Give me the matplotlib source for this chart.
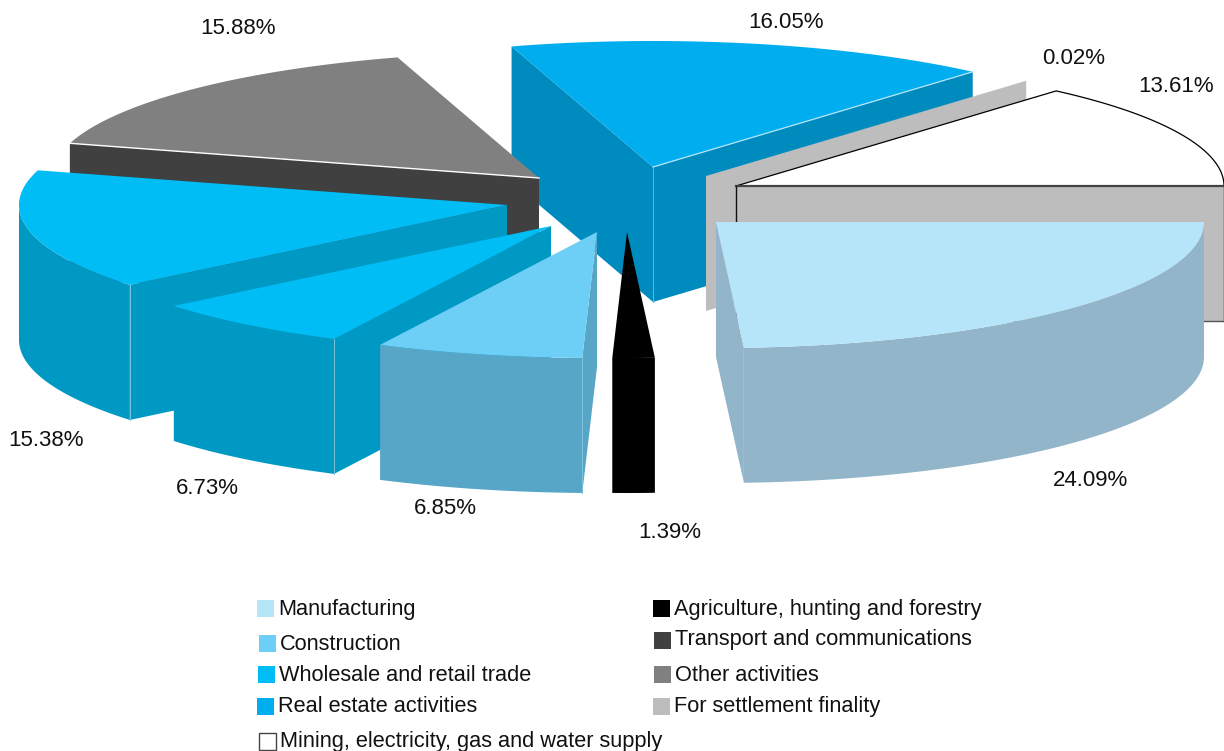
import numpy as np
import matplotlib
matplotlib.use('Agg')
import matplotlib.pyplot as plt
from matplotlib.patches import Rectangle

plt.rcParams['font.family'] = ['Liberation Sans', 'DejaVu Sans']

# shares in drawing order round the pie, counterclockwise from east
shares = [13.61, 0.02, 16.05, 15.88, 15.38, 6.73, 6.85, 1.39, 24.09]
share_labels = ['13.61%', '0.02%', '16.05%', '15.88%', '15.38%', '6.73%', '6.85%', '1.39%', '24.09%']
top_colors = ['#ffffff', '#bdbdbd', '#00aeef', '#808080', '#00bdf6', '#00bdf6', '#6dcff6', '#000000', '#b6e5fa']
side_colors = ['#bdbdbd', '#bdbdbd', '#008bbf', '#404040', '#0099c4', '#0099c4', '#57a6c7', '#000000', '#93b5c9']

legend_left = ['Manufacturing', 'Construction', 'Wholesale and retail trade', 'Real estate activities',
               'Mining, electricity, gas and water supply']
legend_left_colors = ['#b6e5fa', '#6dcff6', '#00bdf6', '#00aeef', '#ffffff']
legend_right = ['Agriculture, hunting and forestry', 'Transport and communications', 'Other activities',
                'For settlement finality']
legend_right_colors = ['#000000', '#404040', '#808080', '#bdbdbd']

# layout in pixels
rx, ry, depth = 488, 126, 135
apex = [(736, 186), (706, 176), (653, 167), (539, 178), (507, 205), (551, 226), (597, 232), (627, 232), (716, 222)]
label_pos = [(1176, 86), (1074, 58), (786, 22), (238, 28), (46, 440), (207, 488), (445, 508), (670, 532), (1090, 480)]
paint_order = [2, 1, 0, 3, 4, 5, 6, 7, 8]
left_swatch = [(257, 600), (259, 635), (258, 666), (257, 698), (259, 733)]
left_base = [615, 650, 681, 712, 747]
right_swatch = [(653, 600), (654, 632), (654, 666), (653, 698)]
right_base = [615, 645, 681, 712]


def rim(cx, cy, deg):
    a = np.radians(deg)
    return cx + rx * np.cos(a), cy - ry * np.sin(a)


fig = plt.figure(figsize=(12.24, 7.51), dpi=100)
ax = fig.add_axes([0, 0, 1, 1])
ax.set_xlim(0, 1224)
ax.set_ylim(751, 0)
ax.axis('off')

edges = np.cumsum([0] + shares) * 3.6

for z, i in enumerate(paint_order):
    a0, a1 = edges[i], edges[i + 1]
    cx, cy = apex[i]
    top = top_colors[i]
    side = side_colors[i]

    # start wall, only when it faces the viewer
    if np.cos(np.radians(a0)) > 0:
        x, y = rim(cx, cy, a0)
        ax.fill([cx, x, x, cx], [cy, y, y + depth, cy + depth], color=side, lw=0, zorder=z)
    # end wall
    if np.cos(np.radians(a1)) < 0:
        x, y = rim(cx, cy, a1)
        ax.fill([cx, x, x, cx], [cy, y, y + depth, cy + depth], color=side, lw=0, zorder=z)
    # front of the rim
    lo, hi = max(a0, 180), min(a1, 360)
    if hi > lo:
        t = np.linspace(lo, hi, 80)
        x, y = rim(cx, cy, t)
        ax.fill(np.r_[x, x[::-1]], np.r_[y, y[::-1] + depth], color=side, lw=0, zorder=z)
    # top
    t = np.linspace(a0, a1, 120)
    x, y = rim(cx, cy, t)
    ax.fill(np.r_[cx, x], np.r_[cy, y], color=top, lw=0, zorder=z)

    # thin light seams
    if i == 2:
        ax.plot([cx, cx], [cy, cy + depth], color='#5db8d8', lw=0.7, zorder=z)
        x, y = rim(cx, cy, a0)
        ax.plot([cx, x], [cy, y], color='#b6e5fa', lw=0.9, zorder=z)
    if i in (4, 5, 6):
        x, y = rim(cx, cy, a1)
        ax.plot([x, x], [y, y + depth], color='#7cc3dc', lw=0.7, zorder=z)
    if i == 3:
        x, y = rim(cx, cy, a1)
        ax.plot([cx, x], [cy, y], color='#ffffff', lw=1.0, zorder=z)
    if i == 0:
        # the white slice only shows through its outline
        t = np.linspace(a0, a1, 120)
        x, y = rim(cx, cy, t)
        ax.plot(np.r_[cx, x[::-1]], np.r_[cy, y[::-1]], color='#000000', lw=0.9, zorder=z)
        x, y = rim(cx, cy, a0)
        ax.plot([cx, cx + 488], [cy, cy], color='#444444', lw=1.6, zorder=z)
        ax.plot([cx, cx], [cy, cy + depth], color='#111111', lw=1.0, zorder=z)
        ax.plot([x, x], [cy, cy + depth], color='#111111', lw=1.0, zorder=z)
        ax.plot([cx, x], [cy + depth, cy + depth], color='#555555', lw=1.0, zorder=z)

for (x, y), s in zip(label_pos, share_labels):
    ax.text(x, y, s, fontsize=16, ha='center', va='center', color='#111111', zorder=20)

for names, cols, boxes, bases in [(legend_left, legend_left_colors, left_swatch, left_base),
                                  (legend_right, legend_right_colors, right_swatch, right_base)]:
    for name, col, (x, y), b in zip(names, cols, boxes, bases):
        edge = '#444444' if col == '#ffffff' else 'none'
        ax.add_patch(Rectangle((x, y), 17, 17, facecolor=col, edgecolor=edge, lw=1.0, zorder=20))
        ax.text(x + 21, b, name, fontsize=15.7, ha='left', va='baseline', color='#111111', zorder=20)

plt.savefig('out.png', dpi=100)
plt.close()
